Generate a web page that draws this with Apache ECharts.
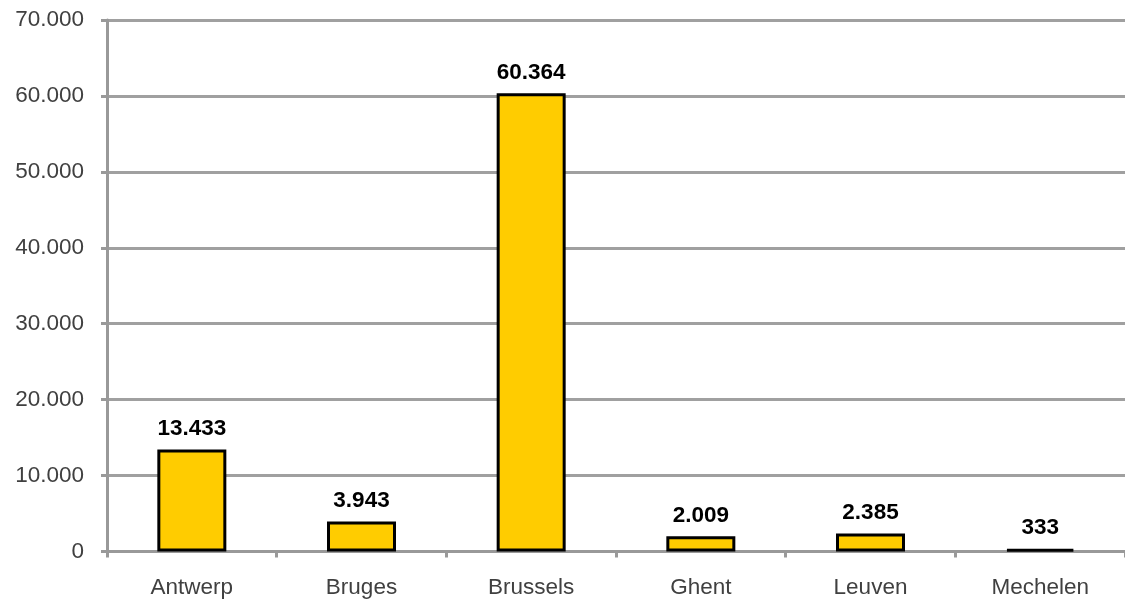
<!DOCTYPE html>
<html>
<head>
<meta charset="utf-8">
<script src="https://cdn.jsdelivr.net/npm/echarts@6/dist/echarts.min.js"></script>
<style>html,body{margin:0;padding:0;background:#fff;}#c{width:1125px;height:607px;}</style>
</head>
<body>
<div id="c"></div>
<script>
var categories = ['Antwerp', 'Bruges', 'Brussels', 'Ghent', 'Leuven', 'Mechelen'];
var values = [13433, 3943, 60364, 2009, 2385, 333];

function fmt(v) {
  return String(Math.round(v)).replace(/\B(?=(\d{3})+(?!\d))/g, '.');
}

var chart = echarts.init(document.getElementById('c'), null, {renderer: 'canvas'});
chart.setOption({
  animation: false,
  backgroundColor: '#ffffff',
  grid: {left: 107, right: 0, top: 20, bottom: 55.5, containLabel: false},
  xAxis: {
    type: 'category',
    data: categories,
    axisLine: {lineStyle: {color: '#999999', width: 3}},
    axisTick: {show: true, length: 6, lineStyle: {color: '#999999', width: 3}},
    axisLabel: {color: '#404040', fontFamily: 'Liberation Sans, Arial', fontSize: 22.5, margin: 25}
  },
  yAxis: {
    type: 'value',
    min: 0, max: 70000, interval: 10000,
    axisLine: {show: true, lineStyle: {color: '#999999', width: 3}},
    axisTick: {show: true, length: 6, lineStyle: {color: '#999999', width: 3}},
    splitLine: {show: true, lineStyle: {color: '#a0a0a0', width: 3}},
    axisLabel: {color: '#404040', fontFamily: 'Liberation Sans, Arial', fontSize: 22.5, margin: 23, formatter: fmt}
  },
  series: [{
    type: 'bar',
    data: values,
    barWidth: 69,
    itemStyle: {color: '#FFCC00', borderColor: '#000000', borderWidth: 3},
    label: {
      show: true, position: 'top', distance: 9,
      color: '#000000', fontWeight: 'bold', fontSize: 22.5,
      fontFamily: 'Liberation Sans, Arial',
      formatter: function (p) { return fmt(p.value); }
    }
  }]
});
</script>
</body>
</html>
